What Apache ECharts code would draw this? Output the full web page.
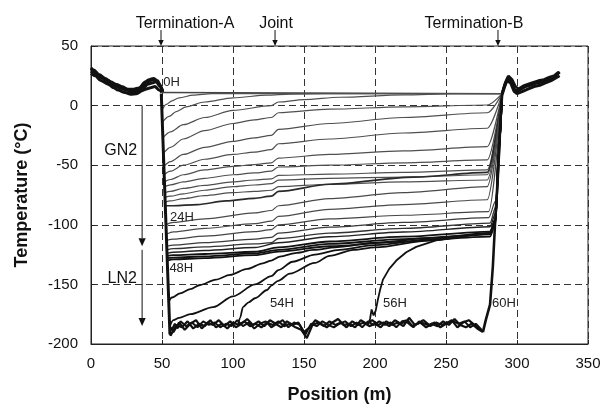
<!DOCTYPE html>
<html>
<head>
<meta charset="utf-8">
<script src="https://cdn.jsdelivr.net/npm/echarts@6/dist/echarts.min.js"></script>
<style>html,body{margin:0;padding:0;background:#fff}#c{width:603px;height:408px}</style>
</head>
<body>
<div id="c"></div>
<script>
// ---- Data (position m, temperature °C) ----
const ambientLeftA = [[0,31],[3,28],[7,24],[12,21],[16,18],[19,16],[24,14],[28,12.5],[32,13],[36,16],[39,19.5],[42,21],[45,22],[48,18],[50,14],[50.5,11]];
const ambientLeftB = [[0,27],[3,25],[7,21],[12,18],[16,15],[19,13],[24,11],[28,9.5],[32,10],[36,12.5],[39,14],[42,15],[45,16],[48,13],[50,11]];
const ambientLeftC = [[0,29],[4,26],[8,23],[12,20],[17,16.5],[21,14.5],[25,13],[29,11],[33,12],[37,15],[40,18],[43,19],[46,20],[48.5,16],[50.5,12]];
const ambientLeftD = [[0,32],[2,30],[6,26],[10,23],[14,20],[18,18],[22,16],[26,14],[30,14],[34,15],[38,20],[41,22],[44,23],[47,21],[49,17],[50.5,12]];
const ambientRightA = [[289.5,10],[291.5,18],[293.7,24],[296,20],[298,14],[300,12],[303,14],[306,16],[309,17],[314,19],[318,20],[321,21.5],[325,23],[328,26],[330,28]];
const ambientRightB = [[289.5,9],[291,15],[293,21],[295.5,19],[298,12],[300,10],[304,12],[308,14],[312,16],[316,17],[320,19],[324,21],[327,23],[330,25]];
const ambientRightC = [[289.5,10],[292,20],[294,25],[296.5,22],[299,16],[301,14],[305,17],[310,19],[315,21],[319,22],[323,24],[326,25],[329,28],[330,27]];
const dropA = [[49.5,10],[51,-40],[52.5,-90],[54,-140],[55.6,-192]];

const prof0H = [[49.5,11],[289.5,10]];
const gn2_01 = [[49.9,-4],[53,1],[57,4],[62,6.5],[72,8.8],[85,10],[289.5,10]];
const gn2_02 = [[50.2,-14],[55,-9],[60,-5],[67,-1],[80,3],[100,6.5],[124,8.8],[140,9.7],[165,10],[289.5,10]];
const gn2_03 = [[50.6,-27],[56,-22],[65,-16],[80,-10],[100,-4],[127,0],[132,3],[150,5],[175,7],[220,9],[255,10],[289.5,10]];
const gn2_04 = [[51,-40],[56,-35],[65,-28],[80,-21],[100,-15],[115,-12],[127,-10],[132,-6],[168,-3],[220,-1],[279,0.5],[289.5,10]];
const gn2_05 = [[51.3,-51],[56,-47],[65,-41],[80,-35],[100,-30],[115,-27],[127,-25],[132,-20],[168,-15],[220,-10],[279,-6],[289.5,10]];
const gn2_06 = [[51.5,-58],[56,-55],[65,-50],[80,-45],[100,-41],[115,-39],[127,-37],[132,-32],[168,-28],[220,-23],[279,-19],[289.5,10]];
const gn2_07 = [[51.7,-64],[56,-62],[65,-58],[80,-54],[100,-51],[115,-49.5],[127,-48],[132,-44],[168,-41],[220,-38],[279,-34.5],[289.5,10]];
const gn2_08 = [[51.8,-68],[56,-66.5],[65,-64],[80,-61],[100,-58],[115,-56.5],[127,-55],[132,-51.5],[168,-50],[220,-48],[279,-45.6],[289.5,10]];
const gn2_09 = [[52,-73],[56,-72],[65,-69.5],[80,-67],[100,-64],[115,-62.4],[127,-61.5],[132,-58.5],[168,-57.5],[220,-56],[279,-54],[289.5,10]];
const gn2_10 = [[52.1,-77],[56,-76],[65,-74],[80,-71],[100,-68],[115,-66.6],[127,-65.5],[132,-62.5],[168,-61],[220,-60],[279,-58],[289.5,10]];
const gn2_11 = [[52.2,-81],[56,-80],[65,-78],[80,-75.5],[100,-73],[115,-72],[127,-71],[132,-68],[168,-66],[220,-64],[279,-62.4],[289.5,10]];
const prof24H = [[52.35,-84],[58,-84],[75,-83],[95,-80],[115,-77.8],[127,-76],[132,-72],[168,-66],[227,-60],[279,-56],[289.5,10]];
const ln2_01 = [[52.8,-100],[58,-98],[80,-95],[115.5,-90],[127,-88],[132,-84],[168,-78],[220,-73],[279,-68],[289.5,10]];
const ln2_02 = [[53.1,-108],[58,-106],[80,-103],[115.5,-99],[127,-97],[132,-93],[168,-87],[220,-83],[279,-79],[289.5,10]];
const ln2_03 = [[53.2,-113],[58,-112],[80,-109.5],[115.5,-105.8],[127,-104],[132,-100],[168,-95],[220,-92],[280,-89],[289.5,10]];
const ln2_04 = [[53.4,-118],[58,-117],[80,-115],[115.5,-112],[127,-110.5],[132,-107],[168,-102],[220,-98],[280,-94],[285,-80],[289.5,10]];
const ln2_05 = [[53.5,-121],[58,-120],[80,-118.5],[115.5,-116],[127,-115],[132,-111.5],[168,-107],[220,-103],[281,-98.6],[285,-85],[289.5,10]];
const ln2_06 = [[53.6,-124],[58,-123],[80,-121.5],[115.5,-119],[132,-115],[168,-110],[220,-106],[281,-101.6],[285,-90],[289.5,10]];
const prof48A = [[53.65,-126],[58,-125.5],[80,-124.5],[115.5,-122.6],[132,-119],[168,-114],[220,-110],[281,-105.8],[285,-95],[287,-40],[289.5,10]];
const prof48B = [[53.7,-128],[58,-127.5],[80,-126.5],[115.5,-124],[132,-121],[168,-116],[220,-112],[281,-108],[285,-97],[287,-40],[289.5,10]];
const prof48C = [[53.75,-130],[58,-129],[80,-128],[115.5,-125.5],[132,-122.5],[168,-118],[220,-114],[281,-110],[285,-98],[287,-40],[289.5,10]];
const prof49 = [[54.5,-165],[57,-161],[62.7,-157.5],[70,-154],[76.8,-150.5],[88,-146],[97.9,-142],[110,-137],[121,-132.3],[127,-130],[133,-126.7],[145,-123.5],[156.3,-121],[175.4,-118.4],[200,-115],[240,-111],[281,-107],[285,-95],[287,-40],[289.5,10]];
const prof50 = [[55.5,-185],[58,-180],[62,-178],[70,-175],[86,-169],[100,-160],[115.5,-150],[127,-143],[132,-138],[142,-131],[157.7,-125],[175,-121],[200,-117],[240,-112],[281,-107.5],[285,-95],[287,-40],[289.5,10]];
const prof54H = [[103.5,-184],[105,-178],[107,-169],[111,-165],[115.5,-161.6],[124,-154.7],[127,-151],[131.7,-147],[140,-141],[157.7,-132],[168,-126],[185,-121],[200,-119],[239,-113],[281,-107],[285,-95],[287,-40],[289.5,10]];
const prof56H = [[195,-184],[196.5,-179],[197.6,-171],[199,-176],[200.5,-172],[202,-163],[203.5,-155],[205.6,-146],[210,-137],[215,-130],[222,-123],[229,-118.5],[243,-113],[260,-110],[281,-107],[285,-95],[287,-40],[289.5,10]];
const prof60H = [[276,-190],[278,-180],[281,-167],[283,-135],[284.5,-100],[286,-70],[287,-40],[288.5,-10],[289.5,9]];
const ln2FlatA = [[55.6,-190],[56,-193],[60,-184],[64,-186],[68,-181],[72,-187],[76,-183],[80,-185],[84,-180],[88,-186],[92,-183],[96,-187],[100,-182],[104,-184],[108,-181],[112,-185],[116,-183],[120,-186],[124,-182],[128,-184],[132,-181],[136,-185],[140,-183],[144,-186],[148,-188],[152,-195],[156,-184],[160,-182],[164,-185],[168,-181],[172,-184],[176,-182],[180,-186],[184,-181],[188,-184],[192,-182],[196,-185],[200,-183],[204,-186],[208,-181],[212,-184],[216,-182],[220,-185],[224,-178],[228,-184],[232,-182],[236,-186],[240,-183],[244,-185],[248,-181],[252,-184],[256,-179],[260,-184],[264,-186],[268,-183],[272,-187],[276,-190]];
const ln2FlatB = [[56,-186],[58,-190],[62,-182],[66,-188],[70,-183],[74,-180],[78,-187],[82,-182],[86,-184],[90,-180],[94,-185],[98,-181],[102,-186],[106,-183],[110,-179],[114,-184],[118,-181],[122,-185],[126,-180],[130,-183],[134,-186],[138,-181],[142,-184],[146,-182],[150,-190],[154,-186],[158,-180],[162,-183],[166,-186],[170,-182],[174,-179],[178,-184],[182,-183],[186,-186],[190,-180],[194,-183],[198,-180],[202,-184],[206,-182],[210,-185],[214,-180],[218,-183],[222,-181],[226,-185],[230,-183],[234,-180],[238,-184],[242,-182],[246,-186],[250,-183],[254,-180],[258,-186],[262,-182],[266,-180],[270,-184],[274,-188],[276,-189]];
const ln2FlatC = [[57,-188],[59,-183],[61,-187],[63,-181],[67,-185],[71,-182],[75,-186],[79,-181],[83,-184],[87,-182],[91,-186],[95,-183],[99,-185],[103,-180],[107,-185],[111,-182],[115,-187],[119,-183],[123,-181],[127,-186],[131,-183],[135,-180],[139,-186],[143,-182],[147,-184],[151,-192],[155,-183],[159,-185],[163,-181],[167,-184],[171,-186],[175,-183],[179,-181],[183,-185],[187,-182],[191,-186],[195,-181],[199,-184],[203,-181],[207,-184],[211,-182],[215,-186],[219,-181],[223,-180],[227,-186],[231,-181],[235,-183],[239,-185],[243,-182],[247,-184],[251,-182],[255,-181],[259,-183],[263,-181],[267,-186],[271,-183],[275,-188]];

// ---- Annotations (data coordinates) ----
const topLabels = [["Termination-A",66.2,68.5],["Joint",130.3,68.5],["Termination-B",269.7,68.5]];
const topArrowsX = [49.3,129.6,286.6];
const phaseLabels = [["GN2",21,-38],["LN2",22,-145]];
const phaseArrows = [[36,0,-118],[36,-121,-185]];
const hourLabels = [["0H",50.9,19.5],["24H",55.6,-94],["48H",55.2,-136.5],["54H",126,-166],["56H",205.6,-166],["60H",282.4,-166]];

const FONT = '"Liberation Sans", Arial, Helvetica, sans-serif';
const chart = echarts.init(document.getElementById('c'), null, {renderer:'canvas'});

function ln(data, color, width, smooth) {
  return {type:'line', data:data, showSymbol:false, symbol:'none', silent:true,
    smooth: smooth ? 0.3 : false, smoothMonotone: smooth ? 'x' : undefined,
    lineStyle:{color:color, width:width}, z:2};
}
const gray = '#4f4f4f';
const series = [
  ln(ambientLeftA,'#111',3,true), ln(ambientLeftB,'#111',3,true), ln(ambientLeftC,'#111',3,true), ln(ambientLeftD,'#111',2.5,true),
  ln(ambientRightA,'#111',3,false), ln(ambientRightB,'#111',3,false), ln(ambientRightC,'#111',2.5,false),
  ln(prof0H,'#444',1.3,false),
  ln(gn2_01,gray,1.2,true), ln(gn2_02,gray,1.2,true), ln(gn2_03,gray,1.2,true), ln(gn2_04,gray,1.2,true),
  ln(gn2_05,gray,1.2,true), ln(gn2_06,gray,1.2,true), ln(gn2_07,gray,1.2,true), ln(gn2_08,gray,1.2,true),
  ln(gn2_09,gray,1.2,true), ln(gn2_10,gray,1.2,true), ln(gn2_11,gray,1.2,true),
  ln(prof24H,'#2a2a2a',1.7,true),
  ln(ln2_01,'#4a4a4a',1.2,true), ln(ln2_02,'#4a4a4a',1.2,true), ln(ln2_03,'#444',1.2,true),
  ln(ln2_04,'#3a3a3a',1.2,true), ln(ln2_05,'#333',1.3,true), ln(ln2_06,'#222',1.4,true),
  ln(prof48A,'#111',1.8,true), ln(prof48B,'#111',1.8,true), ln(prof48C,'#111',1.8,true),
  ln(prof49,'#111',1.8,true), ln(prof50,'#111',1.8,true), ln(prof54H,'#111',1.8,true), ln(prof56H,'#111',1.8,false),
  ln(ln2FlatA,'#111',2.2,false), ln(ln2FlatB,'#111',2.2,false), ln(ln2FlatC,'#111',2,false),
  ln(prof60H,'#111',2.6,false), ln(dropA,'#111',3,false)
];

const axisTxt = {color:'#111', fontSize:15, fontFamily:FONT};
chart.setOption({
  animation:false,
  backgroundColor:'#fff',
  grid:{left:91, right:15, top:46, bottom:64, show:true, borderColor:'#222', borderWidth:1, outerBoundsMode:'none'},
  xAxis:{type:'value', min:0, max:350, interval:50,
    name:'Position (m)', nameLocation:'middle', nameGap:42,
    nameTextStyle:{color:'#111', fontSize:18, fontWeight:'bold', fontFamily:FONT},
    axisLine:{show:true, onZero:false, lineStyle:{color:'#222', width:1}},
    axisTick:{show:true, inside:true, length:4, lineStyle:{color:'#222'}},
    axisLabel:Object.assign({margin:12}, axisTxt),
    splitLine:{show:true, lineStyle:{color:'#333', width:1, type:[7,4]}}},
  yAxis:{type:'value', min:-200, max:50, interval:50,
    name:'Temperature (°C)', nameLocation:'middle', nameGap:60, nameRotate:90,
    nameTextStyle:{color:'#111', fontSize:18, fontWeight:'bold', fontFamily:FONT},
    axisLine:{show:true, onZero:false, lineStyle:{color:'#222', width:1}},
    axisTick:{show:true, inside:true, length:4, lineStyle:{color:'#222'}},
    axisLabel:Object.assign({margin:13}, axisTxt),
    splitLine:{show:true, lineStyle:{color:'#333', width:1, type:[7,4]}}},
  series:series
});

function px(x,y){ return chart.convertToPixel({gridIndex:0},[x,y]); }
function arrow(x, y1, y2, head) {
  const a = px(x,y1), b = px(x,y2);
  const dir = b[1] > a[1] ? 1 : -1;
  return [
    {type:'line', shape:{x1:a[0],y1:a[1],x2:b[0],y2:b[1]-dir*head}, style:{stroke:'#111', lineWidth:1}, z:10},
    {type:'polygon', shape:{points:[[b[0],b[1]],[b[0]-head*0.45,b[1]-dir*head],[b[0]+head*0.45,b[1]-dir*head]]}, style:{fill:'#111'}, z:10}
  ];
}
const g = [];
topLabels.forEach(t => { const p = px(t[1],t[2]); g.push({type:'text', x:p[0], y:p[1], style:{text:t[0], fill:'#111', font:'16px '+FONT, textAlign:'center', textVerticalAlign:'middle'}, z:10}); });
topArrowsX.forEach(x => { g.push(...arrow(x, 63.4, 50, 6)); });
phaseLabels.forEach(t => { const p = px(t[1],t[2]); g.push({type:'text', x:p[0], y:p[1], style:{text:t[0], fill:'#111', font:'16px '+FONT, textAlign:'center', textVerticalAlign:'middle'}, z:10}); });
phaseArrows.forEach(a => { g.push(...arrow(a[0], a[1], a[2], 8)); });
hourLabels.forEach(t => { const p = px(t[1],t[2]); g.push({type:'text', x:p[0], y:p[1], style:{text:t[0], fill:'#222', font:'13px '+FONT, textAlign:'left', textVerticalAlign:'middle'}, z:10}); });
chart.setOption({graphic:{elements:g}});
</script>
</body>
</html>
